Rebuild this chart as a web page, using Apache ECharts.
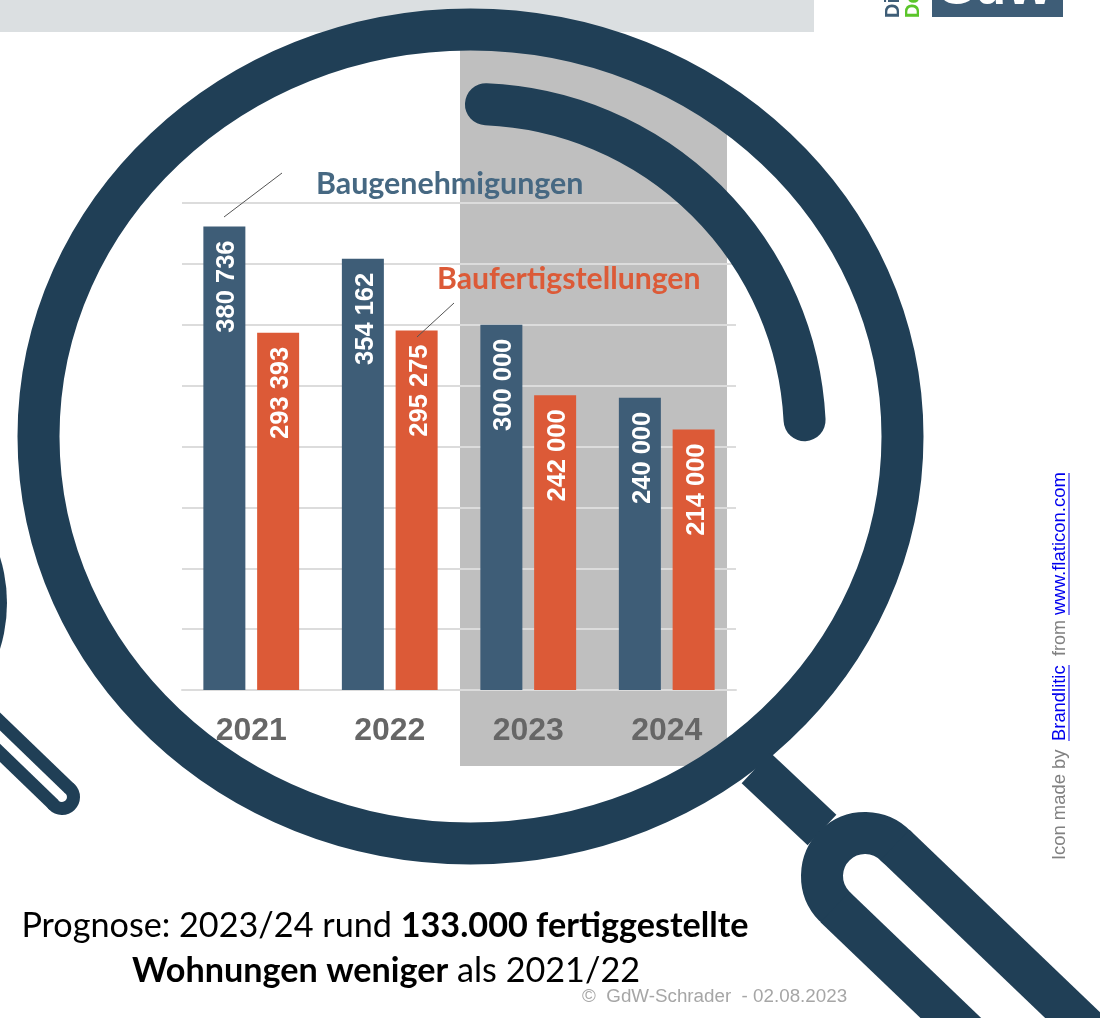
<!DOCTYPE html>
<html><head><meta charset="utf-8">
<style>html,body{margin:0;padding:0;background:#fff}#c{width:1100px;height:1018px}</style>
<script src="https://cdn.jsdelivr.net/npm/echarts@6/dist/echarts.min.js"></script>
</head><body><div id="c"></div>
<script>
const years = ['2021','2022','2023','2024'];
const permits = [380736,354162,300000,240000];
const completions = [293393,295275,242000,214000];
const permitsName = 'Baugenehmigungen';
const completionsName = 'Baufertigstellungen';

const BLUE='#3e5d77', ORANGE='#dc5a37', DARK='#203f56', GREY='#bfbfbf', LINE='#dcdcdc';
const SANS='"Liberation Sans",Arial,sans-serif', CAL='Lato,"Open Sans",sans-serif';
const fmt = p => String(p.value).replace(/\B(?=(\d{3})+$)/g,' ');
const chart = echarts.init(document.getElementById('c'),null,{renderer:'canvas'});

const lbl = {show:true,position:'insideTop',distance:14,offset:[0,3],rotate:90,align:'right',verticalAlign:'middle',
  color:'#fff',fontFamily:SANS,fontWeight:'bold',fontSize:25.5,formatter:fmt};
const d = Math.PI/180;
const stroke = (w,c)=>({stroke:c||DARK,lineWidth:w,fill:null,lineCap:'round'});
const txt = (x,y,text,color,size,extra,rot)=>({type:'text',x,y,rotation:(rot||0)*d,z:20,silent:true,
  style:Object.assign({x:0,y:0,text,fill:color,fontSize:size,fontFamily:SANS,align:'left',verticalAlign:'middle'},extra||{})});
const ln = (x1,y1,x2,y2,w,c,cap)=>({type:'line',z:10,silent:true,shape:{x1,y1,x2,y2},style:{stroke:c||DARK,lineWidth:w,lineCap:cap||'butt'}});
const arc = (cx,cy,r,a0,a1,w,cw)=>({type:'arc',z:10,silent:true,shape:{cx,cy,r,startAngle:a0*d,endAngle:a1*d,clockwise:cw!==false},style:stroke(w)});
const capA = {fontFamily:CAL,fontSize:34.2,fill:'#000',color:'#000'};
const capB = {fontFamily:CAL,fontSize:34.2,fontWeight:'bold',fill:'#000',color:'#000'};

const graphics = [
  {type:'rect',z:-10,silent:true,shape:{x:0,y:0,width:814,height:32},style:{fill:'#dbdfe1'}},
  {type:'polygon',z:-10,silent:true,shape:{points:[[460,35],[520,35],[600,50],[660,73],[727,109],[727,766],[460,766]]},style:{fill:GREY}},
  // logo
  {type:'rect',z:1,silent:true,shape:{x:932,y:0,width:131,height:17},style:{fill:BLUE}},
  txt(995,15,'GdW','#fff',50,{fontWeight:'bold',align:'center',verticalAlign:'bottom'}),
  txt(893,18,'Die',BLUE,20,{fontWeight:'bold'},90),
  txt(913,18,'De','#5bc52a',20,{fontWeight:'bold'},90),
  // large magnifier
  {type:'ellipse',z:10,silent:true,shape:{cx:470.5,cy:436.5,rx:432,ry:407},style:{stroke:DARK,lineWidth:42,fill:null}},
  arc(472,437,333,-87.6,-2.9,42),
  ln(756,768,822,830,42),
  arc(865,876,43,-44,136,42,false),
  ln(895,845,1183,1121,42),
  ln(835,907,1123,1183,42),
  // partial neighbouring magnifier
  {type:'circle',z:10,silent:true,shape:{cx:-148,cy:603,r:155},style:{fill:DARK}},
  arc(62,797,11.5,-44,136,13,true),
  ln(70,789,-16,706,13),
  ln(54,805,-32,722,13),
  // leaders
  ln(224,217,282,173,1,'#555'),
  ln(417,337,454,303,1,'#555'),
  // series names
  txt(316,184,permitsName,'#466882',30.4,{fontFamily:CAL,fontWeight:'bold'}),
  txt(437,279,completionsName,ORANGE,30.2,{fontFamily:CAL,fontWeight:'bold'}),
  // caption
  txt(385,926,'{a|Prognose: 2023/24 rund }{b|133.000 fertiggestellte}','#000',34,{align:'center',rich:{a:capA,b:capB}}),
  txt(386,971,'{b|Wohnungen weniger}{a| als 2021/22}','#000',34,{align:'center',rich:{a:capA,b:capB}}),
  txt(582,997,'©  GdW-Schrader  - 02.08.2023','#a6a6a6',18.8),
  // credit
  txt(1060,860,'Icon made by','#808080',18.4,null,90),
  txt(1060,741,'Brandlitic','#0000ee',18.4,null,90),
  ln(1069,741,1069,665,1,'#0000ee'),
  txt(1060,656,'from','#808080',18,null,90),
  txt(1060,615,'www.flaticon.com','#0000ee',18.5,null,90),
  ln(1069,615,1069,473,1,'#0000ee')
];

chart.setOption({
  animation:false,
  backgroundColor:'#fff',
  grid:{left:182,top:203,width:554,height:487,containLabel:false},
  xAxis:{type:'category',data:years,axisTick:{show:false},
    axisLine:{lineStyle:{color:LINE,width:2}},
    axisLabel:{color:'#666',fontFamily:SANS,fontWeight:'bold',fontSize:32,margin:25}},
  yAxis:{type:'value',min:0,max:400000,interval:50000,axisLabel:{show:false},axisLine:{show:false},axisTick:{show:false},
    splitLine:{lineStyle:{color:LINE,width:2}}},
  series:[
    {name:permitsName,type:'bar',data:permits,barWidth:42,barGap:'28%',itemStyle:{color:BLUE},label:lbl},
    {name:completionsName,type:'bar',data:completions,barWidth:42,itemStyle:{color:ORANGE},label:lbl}
  ],
  graphic:{elements:graphics}
});
</script></body></html>
